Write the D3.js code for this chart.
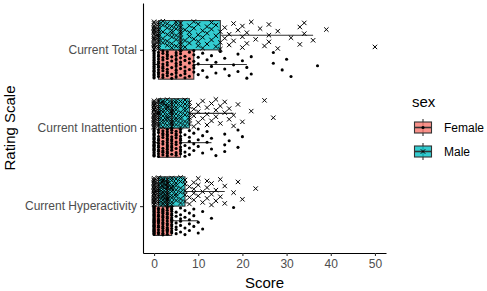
<!DOCTYPE html>
<html lang="en">
<head>
  <meta charset="utf-8">
  <title>Rating Scale Scores by Sex</title>
  <style>
    body { margin: 0; background: #fff; }
    svg { display: block; font-family: "Liberation Sans", Arial, sans-serif; }
  </style>
  <script src="https://d3js.org/d3.v7.min.js"></script>
</head>
<body>
<script>

  // categories, top to bottom
  let scales = ["Current Total", "Current Inattention", "Current Hyperactivity"]
  let sexes = ["Female", "Male"]
  let xTicks = [0, 10, 20, 30, 40, 50]

  // scores, one array per rating scale and sex
  let totalFemale = [0,0,0,0,0,0,0,0,0,0,0,0,0,0,0,0,0,0,0,0,0,0,
    1,1,1,1,1,1,1,1,1,1,1,1, 2,2,2,2,2,2,2,2,2,2, 3,3,3,3,3,3,3,3,3,3,
    4,4,4,4,4, 5,5,5,5,5,5,5,5, 6,6,6,6,6,6,6, 7,7,7,7,7,7, 8,8,8,8,8, 9,9,9,9,9,9,
    10,10,10,11,11,12,12,13,13,14,14,15,16,16,17,18,19,19,20,21,21,
    22,22,27,27,29,30,31,37]
  let totalMale = [0,0,0,0,0,0,0,0,0,0,0,0,0,0,0,0,0,0,
    1,1,1,1,1,1,1,1,1,1,1,1,1,1, 2,2,2,2,2, 3,3,3,3,3, 4,4,4,4,4,4, 5,5,5,5,5,5,
    6,6,6,6,6,6,6,6, 7,7,7, 8,8,8,8, 9,9,9, 10,10,10,10, 11,11,11, 12,12,12,
    13,13,13, 14,14,14, 15,15,15,
    16,16,17,17,18,18,19,20,20,20,21,21,22,23,24,25,26,26,26,28,28,31,33,33,34,34,36,
    39,50]
  let inattFemale = [0,0,0,0,0,0,0,0,0,0,0,0,0,0,0,0,0,0,0,0,0,0,0,0,0,0,
    1,1,1,1,1,1,1,1,1,1,1,1, 2,2,2,2,2,2,2,2,2,2, 3,3,3,3,3,3,3,3,3,3,3,3,3,
    4,4,4,4,4,4,4,4,4,4,4, 5,5,5,5,5,5,5,5,5, 6,6,6,6,6,6,6,6,6,6,
    7,7,7,7,8,8,8,8,8,9,9,9,10,10,10,11,11,12,12,13,13,
    14,16,16,16,17,19,19,20]
  let inattMale = [0,0,0,0,0,0,0,0,0,0,0,0,0,0,0,0,0,0,0,0,
    1,1,1,1,1,1,1,1,1,1,1,1,1,1, 2,2,2,2,2,2,2,2,2, 3,3,3,3,3,3,3,3,3,3,
    4,4,4,4,4,4,4,4,4,4, 5,5,5,5,5,5,5,5, 6,6,6,6,6,6,6, 7,7,7,7,7,7,7, 8,8,8,8,8,8,
    9,9,9,10,10,10,11,11,12,12,12,13,13,14,14,14,15,15,16,16,17,17,18,18,
    19,20,22,25,27]
  let hyperFemale = [0,0,0,0,0,0,0,0,0,0,0,0,0,0,0,0,0,0,0,0,0,0,0,0,0,0,0,0,0,0,0,0,0,0,
    1,1,1,1,1,1,1,1,1,1,1,1,1,1, 2,2,2,2,2,2,2,2,2,2,2,2,2,2,
    3,3,3,3,3,3,3,3,3,3,3,3,3,3, 4,4,4,4,4,4,4,4,4,4,4,4,4,4,4,
    5,5,5,5,5,5,6,6,6,6,6,6,7,7,7,7,8,8,8,8,9,9,9,10,10,
    11,11,13,18]
  let hyperMale = [0,0,0,0,0,0,0,0,0,0,0,0,0,0,0,0,0,0,0,0,0,0,
    1,1,1,1,1,1,1,1,1,1,1,1,1,1, 2,2,2,2,2,2,2,2,2,2,2,2,2,2,
    3,3,3,3,3,3,3,3,3,3,3,3,3,3, 4,4,4,4,4,4,4,4,4,4, 5,5,5,5,5,5,5,
    6,6,6,6,6,6, 7,7,7,7,7,
    8,8,8,9,9,9,9,10,10,10,11,11,12,12,12,13,13,13,14,14,15,15,16,16,
    18,19,20,23]

  let colors = { Female: "#F8766D", Male: "#00BFC4" }

  let groups = [
    { scale: "Current Total", sex: "Female", values: totalFemale },
    { scale: "Current Total", sex: "Male", values: totalMale },
    { scale: "Current Inattention", sex: "Female", values: inattFemale },
    { scale: "Current Inattention", sex: "Male", values: inattMale },
    { scale: "Current Hyperactivity", sex: "Female", values: hyperFemale },
    { scale: "Current Hyperactivity", sex: "Male", values: hyperMale }
  ]

  let width = 487
  let height = 291
  let panel = { left: 143, right: 386, top: 3, bottom: 253 }

  let svg = d3.select("body").append("svg")
    .attr("width", width)
    .attr("height", height)

  let x = d3.scaleLinear().domain([-2.5, 52.5]).range([panel.left, panel.right])
  let y = d3.scalePoint().domain(scales).range([panel.top, panel.bottom]).padding(0.6)
  let step = y.step()
  let dodge = { Female: 0.1875 * step, Male: -0.1875 * step }
  let boxH = 0.375 * step

  // box statistics (same quantile rule as R type 7)
  groups.forEach(g => {
    let s = g.values.slice().sort(d3.ascending)
    g.q1 = d3.quantile(s, 0.25)
    g.med = d3.quantile(s, 0.5)
    g.q3 = d3.quantile(s, 0.75)
    let iqr = g.q3 - g.q1
    g.hi = d3.max(s.filter(v => v <= g.q3 + 1.5 * iqr))
    g.lo = d3.min(s.filter(v => v >= g.q1 - 1.5 * iqr))
    g.cy = y(g.scale) + dodge[g.sex]
    g.sorted = s
  })

  // axes
  let xAxis = svg.append("g")
    .attr("transform", `translate(0, ${panel.bottom})`)
    .call(d3.axisBottom(x).tickValues(xTicks).tickSize(3).tickSizeOuter(0).tickPadding(3))
  let yAxis = svg.append("g")
    .attr("transform", `translate(${panel.left}, 0)`)
    .call(d3.axisLeft(y).tickSize(3).tickSizeOuter(0).tickPadding(3))

  ;[xAxis, yAxis].forEach(a => {
    a.select(".domain").attr("stroke", "#000").attr("stroke-width", 1.1)
    a.selectAll(".tick line").attr("stroke", "#333").attr("stroke-width", 1.1)
    a.selectAll(".tick text").attr("fill", "#4D4D4D").attr("font-size", 12)
      .attr("font-family", "Liberation Sans, Arial, sans-serif")
  })

  // boxes
  let box = svg.append("g").selectAll("g").data(groups).join("g")
  box.append("line")
    .attr("x1", d => x(d.lo)).attr("x2", d => x(d.q1))
    .attr("y1", d => d.cy).attr("y2", d => d.cy)
    .attr("stroke", "#333").attr("stroke-width", 1.1)
  box.append("line")
    .attr("x1", d => x(d.q3)).attr("x2", d => x(d.hi))
    .attr("y1", d => d.cy).attr("y2", d => d.cy)
    .attr("stroke", "#333").attr("stroke-width", 1.1)
  box.append("rect")
    .attr("x", d => x(d.q1)).attr("width", d => x(d.q3) - x(d.q1))
    .attr("y", d => d.cy - boxH / 2).attr("height", boxH)
    .attr("fill", d => colors[d.sex]).attr("fill-opacity", 0.8)
    .attr("stroke", "#333").attr("stroke-width", 1.1)
  box.append("line")
    .attr("x1", d => x(d.med)).attr("x2", d => x(d.med))
    .attr("y1", d => d.cy - boxH / 2).attr("y2", d => d.cy + boxH / 2)
    .attr("stroke", "#333").attr("stroke-width", 2)

  // jittered points, spread inside each dodged band (golden-ratio spacing, not random)
  let spread = 0.18 * step
  let pts = []
  groups.forEach((g, k) => {
    g.sorted.forEach((v, i) => {
      let f = (i * 0.6180339887 + k * 0.37) % 1
      pts.push({ sex: g.sex, v: v, py: g.cy + (f - 0.5) * 2 * spread })
    })
  })

  let crossPath = r => `M${-r},${-r}L${r},${r}M${-r},${r}L${r},${-r}`

  let ptsG = svg.append("g")
  ptsG.selectAll("circle").data(pts.filter(p => p.sex === "Female")).join("circle")
    .attr("cx", d => x(d.v)).attr("cy", d => d.py).attr("r", 1.55).attr("fill", "#000")
  ptsG.selectAll("path").data(pts.filter(p => p.sex === "Male")).join("path")
    .attr("transform", d => `translate(${x(d.v)}, ${d.py})`)
    .attr("d", crossPath(2.2)).attr("stroke", "#000").attr("stroke-width", 1).attr("fill", "none")

  // axis titles
  svg.append("text")
    .attr("x", (panel.left + panel.right) / 2).attr("y", 288)
    .attr("text-anchor", "middle").attr("font-size", 15)
    .text("Score")
  svg.append("text")
    .attr("transform", `translate(14.5, ${(panel.top + panel.bottom) / 2}) rotate(-90)`)
    .attr("text-anchor", "middle").attr("font-size", 15)
    .text("Rating Scale")

  // legend
  let legend = svg.append("g")
  legend.append("text").attr("x", 412).attr("y", 107).attr("font-size", 15).text("sex")
  let keyY = { Female: 127.5, Male: 151.5 }
  let key = legend.selectAll("g.key").data(sexes).join("g")
    .attr("class", "key")
    .attr("transform", d => `translate(423, ${keyY[d]})`)
  key.append("line").attr("x1", 0).attr("x2", 0).attr("y1", -8.5).attr("y2", 8.5)
    .attr("stroke", "#333").attr("stroke-width", 1.1)
  key.append("rect").attr("x", -8.5).attr("y", -5.5).attr("width", 17).attr("height", 11)
    .attr("fill", d => colors[d]).attr("fill-opacity", 0.8)
    .attr("stroke", "#333").attr("stroke-width", 1.1)
  key.append("line").attr("x1", -8.5).attr("x2", 8.5).attr("y1", 0).attr("y2", 0)
    .attr("stroke", "#333").attr("stroke-width", 1.6)
  key.filter(d => d === "Female").append("circle").attr("r", 1.55).attr("fill", "#000")
  key.filter(d => d === "Male").append("path").attr("d", crossPath(2.2))
    .attr("stroke", "#000").attr("stroke-width", 1)
  key.append("text").attr("x", 21).attr("y", 4.3).attr("font-size", 12).text(d => d)

</script>
</body>
</html>
